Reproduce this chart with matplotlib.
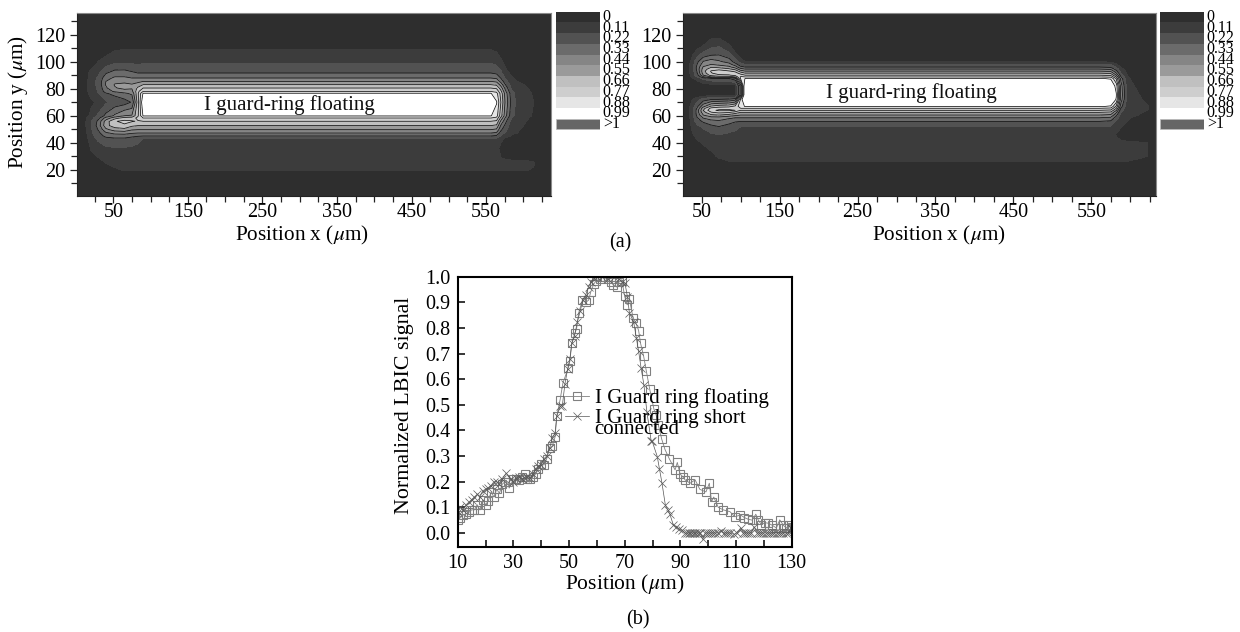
import numpy as np
import matplotlib
matplotlib.use("Agg")
import matplotlib.pyplot as plt
from matplotlib.ticker import MultipleLocator, FixedLocator, NullFormatter

plt.rcParams['font.family'] = ['Liberation Serif', 'DejaVu Serif']
plt.rcParams['mathtext.fontset'] = 'stix'

W, H = 1240, 632

# ---------- shared contour scale ----------
levels = [0, .11, .22, .33, .44, .55, .66, .77, .88, .99, 1.3]
band_colors = ['#2e2e2e', '#3c3c3c', '#525252', '#6b6b6b', '#858585', '#9a9a9a',
               '#c0c0c0', '#cecece', '#e6e6e6', '#ffffff']
over_color = '#666666'
scale_labels = ['0', '0.11', '0.22', '0.33', '0.44', '0.55', '0.66', '0.77', '0.88', '0.99', '>1']

# ---------- left map: estimated field, one list per x position ----------
left_y = [136, 112, 109, 99, 91.6, 87.9, 85.4, 83, 80.5, 78, 76.5, 70, 60, 58.3, 55.9, 52.7, 49.7, 47.2, 45, 43.5, 36, 25, 20, 1]
left_main = [0, .07, .11, .22, .33, .44, .55, .66, .77, .88, 1.0, 1.2, 1.0, .88, .77, .66, .55, .44, .33, .22, .17, .14, .115, 0]
left_x = [1, 12, 20, 30, 40, 52, 65, 75, 83, 90, 100, 540, 556, 564, 570, 576, 584, 592, 604, 614, 622, 637]
left_cols = [
    [0] * 24,
    [0, 0, 0, .02, .05, .06, .07, .07, .07, .07, .07, .05, .07, .08, .09, .09, .08, .07, .06, .05, .02, 0, 0, 0],
    [0, 0, .01, .06, .14, .15, .16, .16, .15, .15, .14, .09, .13, .17, .21, .21, .2, .19, .18, .17, .12, .04, 0, 0],
    [0, .01, .04, .12, .2, .24, .25, .25, .24, .23, .21, .13, .24, .3, .36, .38, .34, .3, .27, .25, .16, .08, .03, 0],
    [0, .03, .06, .16, .32, .4, .44, .45, .42, .38, .32, .2, .36, .48, .6, .62, .52, .42, .36, .31, .2, .11, .06, 0],
    [0, .06, .10, .21, .38, .46, .52, .56, .54, .46, .36, .26, .46, .62, .76, .72, .6, .47, .38, .33, .21, .13, .1, 0],
    [0, .07, .11, .22, .38, .46, .52, .58, .58, .5, .42, .28, .55, .7, .8, .75, .62, .48, .38, .33, .21, .14, .115, 0],
    [0, .07, .11, .21, .35, .44, .5, .56, .56, .52, .46, .34, .56, .72, .78, .68, .56, .45, .36, .3, .2, .14, .115, 0],
    [0, .07, .11, .2, .33, .44, .52, .6, .68, .74, .75, .72, .75, .8, .76, .66, .55, .44, .34, .27, .18, .14, .115, 0],
    [0, .07, .11, .21, .33, .44, .55, .66, .77, .88, 1.0, 1.1, 1.0, .88, .77, .66, .55, .44, .33, .22, .17, .14, .115, 0],
    left_main,
    left_main,
    left_main,
    [0, .05, .09, .19, .31, .42, .53, .64, .75, .85, .92, 1.0, .93, .85, .75, .64, .53, .42, .31, .22, .15, .13, .115, 0],
    [0, .02, .05, .14, .24, .32, .4, .5, .6, .68, .72, .76, .7, .62, .52, .42, .35, .28, .2, .14, .07, .13, .115, 0],
    [0, .01, .03, .08, .14, .2, .26, .33, .4, .46, .5, .52, .48, .42, .36, .3, .25, .2, .14, .1, .05, .13, .115, 0],
    [0, 0, .01, .05, .09, .12, .14, .17, .2, .24, .27, .3, .26, .22, .18, .15, .13, .12, .1, .08, .03, .13, .115, 0],
    [0, 0, 0, .03, .06, .09, .11, .13, .15, .16, .17, .18, .17, .15, .14, .13, .12, .11, .09, .07, .02, .13, .115, 0],
    [0, 0, 0, .01, .03, .05, .07, .1, .12, .13, .13, .14, .13, .12, .11, .1, .08, .06, .04, .03, .01, .13, .115, 0],
    [0, 0, 0, 0, .01, .02, .03, .05, .07, .09, .1, .11, .1, .09, .07, .05, .03, .02, .01, .01, 0, .12, .1, 0],
    [0, 0, 0, 0, 0, 0, 0, 0, .01, .02, .02, .03, .02, .01, 0, 0, 0, 0, 0, 0, 0, .03, .02, 0],
    [0] * 24,
]

# ---------- right map: estimated field, one list per x position ----------
right_y = [136, 118, 111, 105, 100, 98, 96, 94.5, 93, 91.5, 90, 88.7, 87.5, 82, 75.5, 72, 66.9, 65.5, 64, 62.5, 60.5, 58.5, 55.8, 52, 46, 40, 30, 26.3, 24, 1]
right_main = [0, 0, 0, .02, .11, .22, .33, .44, .55, .66, .77, .88, 1.0, 1.2, 1.2, 1.2, 1.0, .88, .77, .66, .55, .44, .33, .22, .19, .17, .13, .11, .03, 0]
right_x = [25, 33, 38, 44, 52, 62, 72, 85, 93, 100, 106, 560, 575, 582, 588, 596, 610, 622, 633]
right_cols = [
    [0] * 30,
    [0, 0, .01, .04, .07, .08, .09, .09, .08, .08, .07, .06, .05, .01, .01, .06, .08, .08, .08, .08, .08, .08, .07, .06, .03, .01, 0, 0, 0, 0],
    [0, 0, .04, .1, .15, .16, .17, .17, .16, .16, .15, .13, .1, .02, .02, .11, .16, .17, .17, .17, .17, .16, .15, .13, .10, .05, 0, 0, 0, 0],
    [0, .01, .08, .18, .3, .33, .36, .36, .34, .32, .28, .22, .14, .03, .03, .17, .3, .34, .38, .38, .36, .32, .27, .19, .14, .09, .02, 0, 0, 0],
    [0, .05, .12, .27, .45, .5, .56, .6, .62, .6, .55, .42, .24, .04, .04, .28, .52, .62, .66, .62, .55, .45, .35, .24, .17, .12, .05, .02, 0, 0],
    [0, .09, .2, .32, .5, .55, .65, .72, .78, .76, .7, .55, .3, .05, .05, .33, .68, .8, .85, .76, .64, .5, .4, .3, .2, .14, .09, .05, .01, 0],
    [0, .10, .22, .33, .46, .52, .62, .74, .82, .82, .75, .6, .32, .05, .05, .34, .72, .84, .9, .8, .66, .5, .42, .33, .22, .15, .12, .09, .02, 0],
    [0, .03, .14, .26, .4, .48, .58, .68, .78, .82, .76, .6, .33, .05, .05, .36, .74, .85, .9, .78, .62, .46, .38, .28, .2, .15, .13, .11, .03, 0],
    [0, 0, .04, .14, .28, .38, .5, .62, .74, .82, .8, .66, .4, .05, .05, .4, .8, .88, .88, .72, .58, .44, .34, .25, .19, .17, .13, .11, .03, 0],
    [0, 0, 0, .05, .16, .26, .36, .48, .6, .72, .82, .9, .9, .5, .5, .9, .95, .88, .77, .66, .55, .44, .33, .22, .19, .17, .13, .11, .03, 0],
    right_main,
    right_main,
    [0, 0, 0, .01, .09, .2, .31, .42, .53, .64, .75, .86, .98, 1.1, 1.1, 1.1, .98, .86, .75, .64, .53, .42, .31, .21, .18, .15, .13, .11, .03, 0],
    [0, 0, 0, 0, .05, .12, .2, .28, .36, .45, .55, .66, .76, .95, 1.0, .98, .75, .66, .56, .46, .36, .28, .2, .15, .1, .14, .13, .11, .03, 0],
    [0, 0, 0, 0, .02, .06, .1, .14, .18, .22, .28, .34, .4, .5, .52, .5, .38, .32, .26, .22, .18, .14, .12, .12, .06, .13, .13, .11, .03, 0],
    [0, 0, 0, 0, 0, .02, .04, .06, .08, .1, .11, .12, .13, .17, .19, .18, .15, .14, .14, .13, .12, .12, .11, .08, .03, .13, .13, .11, .03, 0],
    [0, 0, 0, 0, 0, 0, 0, 0, .01, .02, .03, .04, .05, .08, .12, .13, .13, .13, .12, .12, .11, .09, .07, .04, .02, .12, .12, .10, .03, 0],
    [0, 0, 0, 0, 0, 0, 0, 0, 0, 0, 0, 0, .01, .02, .05, .08, .12, .12, .11, .1, .08, .06, .04, .02, .01, .11, .11, .09, .02, 0],
    [0, 0, 0, 0, 0, 0, 0, 0, 0, 0, 0, 0, 0, 0, .01, .03, .06, .06, .05, .03, .02, .01, 0, 0, 0, .03, .03, .02, 0, 0],
]

# ---------- line chart ----------
float_x = [10, 11, 12, 13, 14, 15, 16, 17, 18, 19, 20, 21, 22, 23, 24, 25, 26, 27, 28, 28.5, 30, 31, 32, 33, 34, 35, 36, 37, 38, 39, 40, 41, 42, 43, 44, 45, 45.6, 46.8, 47.8, 49.7, 50.3, 51, 52.1, 52.7, 53.5, 54.8, 56, 57, 57.8, 58.8, 59.8, 61, 62, 63, 64, 65, 65.9, 67.1, 68, 69, 70, 70.9, 71.7, 73, 74, 75, 75.7, 76.8, 77.8, 79, 80.5, 81.3, 82.1, 83.3, 84.5, 86, 88.1, 88.9, 89.9, 90.8, 91.7, 93.5, 95.3, 97, 99.2, 100.4, 101.2, 102, 103.6, 105.4, 107.8, 109.6, 111.6, 113, 114.4, 115.8, 117.1, 118, 119.1, 120.3, 121.5, 123, 124.5, 125.7, 127, 128, 129, 130]
float_y = [.05, .06, .07, .075, .08, .09, .09, .11, .09, .13, .11, .125, .16, .14, .17, .155, .19, .2, .2, .175, .21, .21, .205, .22, .23, .21, .21, .22, .23, .25, .27, .265, .29, .33, .34, .375, .457, .52, .585, .643, .67, .74, .78, .796, .86, .908, .9, .908, .94, .97, .985, .99, 1.0, 1.0, .99, .98, .968, .96, .98, .985, .923, .89, .912, .84, .82, .79, .74, .69, .63, .56, .483, .46, .42, .366, .325, .29, .246, .275, .23, .22, .207, .194, .207, .17, .16, .194, .122, .14, .1, .09, .083, .063, .07, .06, .053, .05, .073, .05, .032, .04, .038, .03, .019, .051, .03, .019, .03, .025]
short_x = [10, 11, 12, 13, 14, 15, 16, 17, 18, 19, 20, 21, 22, 23, 24, 25, 26, 27.4, 29, 30, 31, 32, 33, 34, 35, 36, 37, 38, 39, 40, 41, 42, 43, 44, 45, 45.6, 46.8, 47.6, 48.5, 49.5, 50.3, 51, 52, 53, 54, 55, 56, 57, 58, 59, 60, 62, 64, 66, 68, 69, 70.1, 71, 71.7, 73.2, 74.2, 75, 75.9, 76.9, 78, 79.5, 79.9, 81.7, 82.5, 83.4, 84.6, 85.5, 86.2, 87.5, 88.4, 89.4, 90.5, 91.8, 92.5, 93, 93.6, 94.2, 94.8, 95.4, 96, 96.6, 97.2, 98, 99, 99.6, 100.2, 101, 101.8, 102.6, 103.4, 104.5, 105.5, 106.3, 107.1, 108, 109.3, 110.3, 111.7, 112.5, 113.3, 114, 114.7, 115.5, 116.5, 117.5, 118.3, 119, 119.8, 120.6, 121.4, 122.2, 123, 123.8, 124.6, 125.4, 126.2, 127, 127.8, 128.6, 129.2, 129.7, 130]
short_y = [.08, .1, .09, .11, .12, .13, .14, .15, .14, .165, .17, .175, .185, .2, .2, .19, .21, .233, .21, .2, .215, .22, .21, .215, .22, .215, .23, .25, .26, .265, .29, .3, .33, .37, .39, .455, .495, .497, .58, .64, .68, .74, .77, .825, .865, .91, .93, .96, .98, .995, 1.0, 1.0, .99, 1.0, .99, .98, .975, .92, .858, .825, .76, .709, .643, .578, .47, .36, .357, .298, .249, .194, .109, .09, .074, .03, .025, .017, .01, -.002, 0, 0, 0, 0, 0, 0, 0, 0, 0, -.025, 0, 0, 0, 0, 0, 0, 0, .008, 0, 0, 0, 0, -.006, 0, .02, 0, 0, 0, 0, 0, .024, 0, 0, 0, 0, 0, 0, 0, 0, 0, 0, 0, 0, 0, 0, 0, .005, .02, .015]
float_label = 'I Guard ring floating'
short_label = 'I Guard ring short'
short_label_wrap = 'connected'


def box(x0, y0, x1, y1):
    """Pixel box (top-left origin) to figure fractions."""
    return [x0 / W, 1 - y1 / H, (x1 - x0) / W, (y1 - y0) / H]


def ftext(px, py, s, **kw):
    fig.text(px / W, 1 - py / H, s, ha=kw.pop('ha', 'center'), va=kw.pop('va', 'center'), **kw)


fig = plt.figure(figsize=(W / 100, H / 100), dpi=100)


def draw_map(rect, xs, ys, cols, xlim, note_xy):
    ax = fig.add_axes(box(*rect))
    Z = np.array(cols).T
    ax.contourf(xs, ys, Z, levels=levels, colors=band_colors)
    ax.contour(xs, ys, Z, levels=levels[3:-1], colors='#111111', linewidths=0.55)
    ax.set_xlim(*xlim)
    ax.set_ylim(1, 136)
    ax.xaxis.set_major_locator(FixedLocator(list(range(50, 640, 100))))
    ax.set_xticklabels([str(v) for v in range(50, 640, 100)])
    ax.xaxis.set_minor_locator(MultipleLocator(25))
    ax.yaxis.set_major_locator(MultipleLocator(20))
    ax.yaxis.set_minor_locator(MultipleLocator(10))
    ax.yaxis.set_minor_formatter(NullFormatter())
    ax.tick_params(axis='x', which='major', length=5, width=0.9, labelsize=14.5, pad=0.5, color='#222222')
    ax.tick_params(axis='y', which='major', length=5, width=0.9, labelsize=14.5, pad=3, color='#222222')
    ax.tick_params(which='minor', length=4, width=0.9, color='#222222')
    for s in ax.spines.values():
        s.set_color('#8a8a8a')
        s.set_linewidth(0.8)
    ax.spines['left'].set_color('#222222')
    ax.spines['bottom'].set_color('#222222')
    ax.text(*note_xy, 'I guard-ring floating', fontsize=15, ha='left', va='center', color='#111111')
    return ax


draw_map((76.5, 13, 551, 195.5), left_x, left_y, left_cols, (0.7, 637), (172, 68))
draw_map((682.7, 13, 1156, 195.5), right_x, right_y, right_cols, (25.6, 633), (210, 77))


def draw_scale(rect):
    ax = fig.add_axes(box(*rect))
    idx = list(range(9))
    ax.barh(idx, [1] * 9, height=1, left=0, color=band_colors[:9], align='edge', linewidth=0)
    ax.barh([10], [1], height=1, left=0, color=over_color, align='edge', edgecolor='#bbbbbb', linewidth=0.5)
    ax.set_xlim(0, 1)
    ax.set_ylim(11, 0)
    ax.set_xticks([])
    ax.set_yticks([i + 0.3 for i in range(11)])
    ax.set_yticklabels(scale_labels, fontsize=11.5)
    ax.yaxis.tick_right()
    ax.tick_params(axis='y', length=0, pad=2)
    for s in ax.spines.values():
        s.set_visible(False)


draw_scale((555.7, 11.7, 600, 129.5))
draw_scale((1160, 11.7, 1204, 129.5))

# line chart
ax = fig.add_axes(box(457.7, 276.7, 791.7, 547))
ax.plot(float_x, float_y, '-', color='#808080', lw=0.6, marker='s', ms=5.8, mfc='none', mec='#808080', mew=0.8, label=float_label)
ax.plot(short_x, short_y, '-', color='#555555', lw=0.5, marker='x', ms=6, mec='#5a5a5a', mew=0.5, label=short_label)
ax.set_xlim(10, 130)
ax.set_ylim(-0.055, 1.0)
ax.set_xticks(list(range(10, 131, 20)))
ax.xaxis.set_minor_locator(MultipleLocator(10))
ax.set_yticks([i / 10 for i in range(11)])
ax.tick_params(which='both', direction='in', length=5, width=1.1, labelsize=14.5, pad=5)
for s in ax.spines.values():
    s.set_linewidth(1.5)
leg = ax.legend(loc='upper left', bbox_to_anchor=(565 / W, 1 - 388 / H), bbox_transform=fig.transFigure,
                frameon=False, fontsize=15, borderpad=0, borderaxespad=0, handlelength=1.15,
                handletextpad=0.3, labelspacing=0.02)
ftext(594, 430, short_label_wrap, fontsize=15, ha='left')

mu = r'$\mu$'
ftext(302, 235, f'Position x ({mu}m)', fontsize=15.3)
ftext(939, 235, f'Position x ({mu}m)', fontsize=15.3)
ftext(18, 102, f'Position y ({mu}m)', fontsize=15.3, rotation=90)
ftext(620, 243, '(a)', fontsize=14.5)
ftext(625, 584, f'Position ({mu}m)', fontsize=15.5)
ftext(405, 405, 'Normalized LBIC signal', fontsize=15.8, rotation=90)
ftext(638, 620, '(b)', fontsize=14.5)

fig.savefig('out.png', dpi=100)
